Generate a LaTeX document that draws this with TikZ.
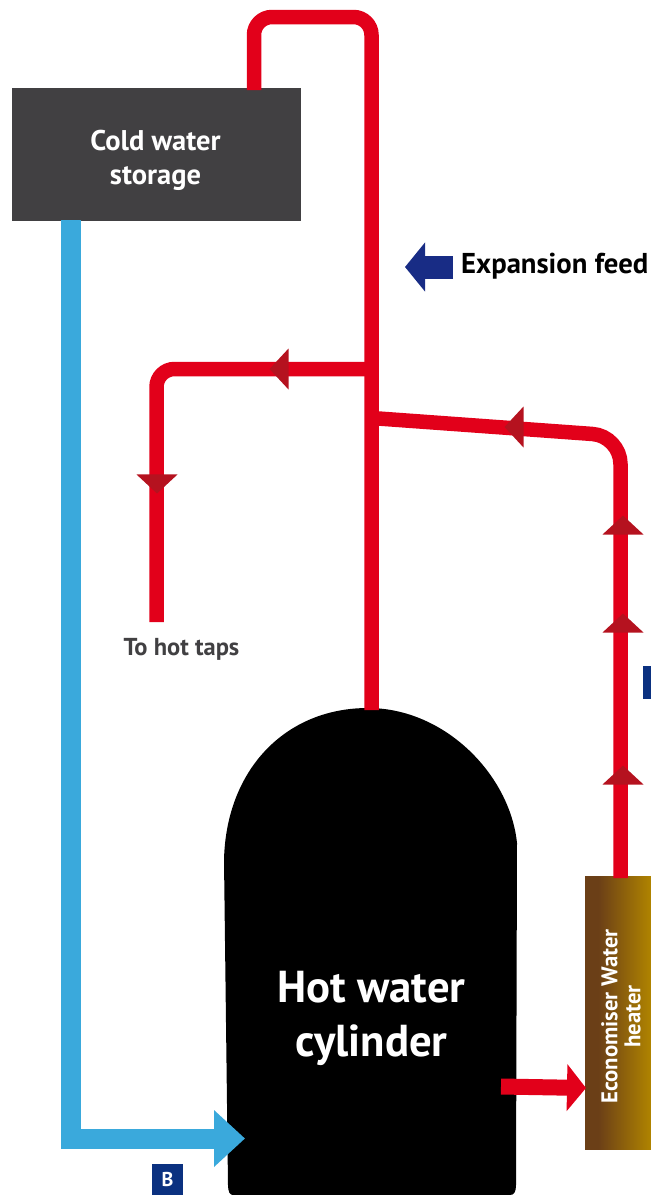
\documentclass[tikz,border=0pt]{standalone}
\usepackage{fontspec}
\setmainfont{PT Sans}
\usetikzlibrary{positioning,arrows.meta,shapes.geometric}
\definecolor{pipered}{HTML}{E2001A}
\definecolor{headred}{HTML}{B5121F}
\definecolor{coldblue}{HTML}{3AA9DC}
\definecolor{navy}{HTML}{0B3180}
\definecolor{feednavy}{HTML}{182C85}
\definecolor{storagegrey}{HTML}{414042}
\definecolor{heaterbrown}{HTML}{6B3F17}
\definecolor{heatergold}{HTML}{B08400}
\pgfdeclarehorizontalshading{heatershade}{100bp}{color(0bp)=(heaterbrown); color(35bp)=(heaterbrown); color(75bp)=(heatergold); color(100bp)=(heatergold)}

\begin{document}
\begin{tikzpicture}[
    x=1pt, y=-1pt,
    pipe/.style={draw=pipered, line width=14.5pt, rounded corners=18pt},
    flowhead/.style={isosceles triangle, isosceles triangle stretches, fill=headred, minimum width=41pt, minimum height=19pt, inner sep=0pt, anchor=apex},
    coldpipe/.style={draw=coldblue, line width=20pt, -{Triangle[length=31pt,width=55pt]}},
    storagebox/.style={rectangle, fill=storagegrey, text=white, minimum width=289pt, minimum height=133pt, inner sep=0pt, align=center, font=\fontsize{28.5}{34}\selectfont\bfseries},
    heaterbox/.style={rectangle, shading=heatershade, minimum width=66pt, minimum height=273pt, inner sep=0pt},
    navybox/.style={rectangle, fill=navy, inner sep=0pt}
  ]
  \useasboundingbox (0,0) rectangle (651,1195);

  % Hot water cylinder
  \fill[black] (368,708) .. controls (285,708) and (226,770) .. (224,860)
    -- (228,1185) .. controls (228,1192) and (230,1195) .. (233,1195)
    -- (510,1195) .. controls (514,1195) and (516,1192) .. (516,1185)
    -- (517,843) .. controls (510,775) and (445,708) .. (368,708);
  \node[text=white, align=center, font=\fontsize{44.7}{54}\selectfont\bfseries] (cylinder) at (371.5,1018) {Hot water\\cylinder};
  \coordinate (cylindertop) at (371.5,710);

  % Storage and heater
  \node[storagebox] (storage) at (156.5,154.5) {};
  \node[text=white, align=center, font=\fontsize{28.5}{34}\selectfont\bfseries] (storagetext) at (155.5,160) {Cold water\\storage};
  \node[heaterbox] (heater) at (618,1012.5) {};
  \node[rotate=90, text=white, align=center, font=\fontsize{22.7}{23}\selectfont\bfseries] (heatertext) at (621,1016.5) {Economiser Water\\heater};

  % Pipe ends
  \coordinate (ventout) at (254,90);
  \coordinate (ventcorner) at (254,17);
  \coordinate (ventright) at (371.5,17);
  \coordinate (tapjoin) at (371.5,369);
  \coordinate (tapcorner) at (156.5,369);
  \coordinate (tapend) at (156.5,622);
  \coordinate (heaterjoin) at (371.5,418);
  \coordinate (heatercorner) at (620.5,436);
  \coordinate (heatertop) at (620.5,878);

  % Red pipes
  \draw[pipe] (ventout) -- (ventcorner) -- (ventright) -- (cylindertop);
  \draw[pipe] (tapjoin) -- (tapcorner) -- (tapend);
  \draw[pipe, rounded corners=28pt] (heaterjoin) -- (heatercorner) -- (heatertop);

  % Flow heads
  \node[flowhead, shape border rotate=180] (headtapa) at (269,369) {};
  \node[flowhead, shape border rotate=270] (headtapb) at (157,494) {};
  \node[flowhead, shape border rotate=180] (headreturn) at (504,427) {};
  \node[flowhead, shape border rotate=90] (headupa) at (623,515) {};
  \node[flowhead, shape border rotate=90] (headupb) at (623,613) {};
  \node[flowhead, shape border rotate=90] (headupc) at (623,765) {};

  % Cold feed
  \coordinate (coldout) at (71,220);
  \coordinate (coldin) at (245,1138.5);
  \draw[coldpipe] (coldout) |- (coldin);

  % Flow into heater
  \coordinate (flowout) at (501,1086.5);
  \coordinate (flowin) at (586,1088);
  \draw[draw=pipered, line width=16pt, -{Triangle[length=19pt,width=46pt]}] (flowout) -- (flowin);

  % Expansion feed
  \node[anchor=west, inner sep=0pt, font=\fontsize{28.7}{30}\selectfont\bfseries] (expansion) at (461,266) {Expansion feed};
  \coordinate (expansionstart) at (453,267);
  \coordinate (expansionend) at (405,267);
  \draw[draw=feednavy, line width=23pt, -{Triangle[length=20pt,width=48pt]}] (expansionstart) -- (expansionend);

  % Labels
  \node[text=storagegrey, font=\fontsize{24.5}{25}\selectfont\bfseries] (taps) at (181.5,649) {To hot taps};
  \node[navybox, minimum width=31pt, minimum height=31pt, text=white, font=\fontsize{20}{20}\selectfont\bfseries] (badgeb) at (167.5,1179.5) {B};
  \node[navybox, minimum width=8pt, minimum height=33pt] (badgeedge) at (647,682.5) {};
\end{tikzpicture}
\end{document}
